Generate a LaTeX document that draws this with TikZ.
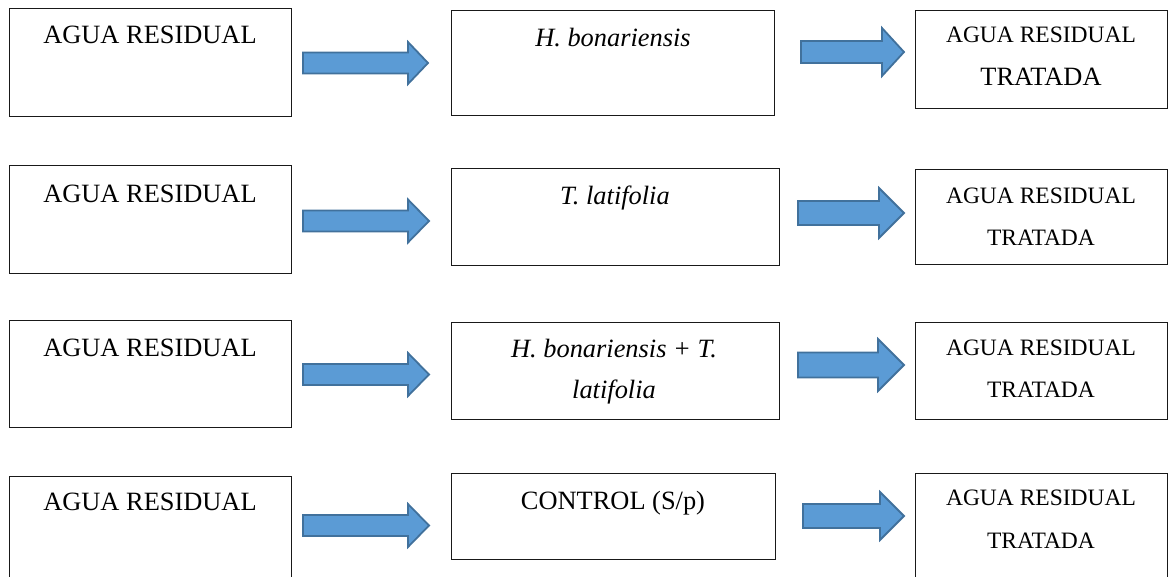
\documentclass[tikz,border=0pt]{standalone}
\usepackage{fontspec}
\setmainfont{Liberation Serif}
\definecolor{arrfill}{RGB}{91,155,213}
\definecolor{arrline}{RGB}{65,113,156}
\newcommand{\bigtxt}{\fontsize{26.4}{30}\selectfont}
\newcommand{\smtxt}{\fontsize{23.5}{28}\selectfont}
% block arrow: x-start, x-tip, x-head-start, y-centre, shaft half, head half
\newcommand{\blockarr}[6]{%
  \draw[blockarrow] (#1,{#4-#5}) -- (#3,{#4-#5}) -- (#3,{#4-#6}) -- (#2,#4)
    -- (#3,{#4+#6}) -- (#3,{#4+#5}) -- (#1,{#4+#5}) -- cycle;}
\begin{document}
\begin{tikzpicture}[x=1pt,y=-1pt,
  box/.style={draw=black!90, line width=1.1pt, fill=white, inner sep=0pt, anchor=north west},
  txt/.style={anchor=base, inner sep=0pt, font=\bigtxt},
  stxt/.style={anchor=base, inner sep=0pt, font=\smtxt},
  blockarrow/.style={fill=arrfill, draw=arrline, line width=1.8pt, line join=miter}]
\useasboundingbox (0,0) rectangle (1176,576);
\clip (0,0) rectangle (1176,576);
% ---------- row 1
\node[box, minimum width=282, minimum height=108] (L1) at (9,8) {};
\node[box, minimum width=323, minimum height=105] (M1) at (451,10) {};
\node[box, minimum width=252, minimum height=98] (R1) at (915,10) {};
\node[txt] (tL1) at (150,43.5) {AGUA RESIDUAL};
\node[txt] (tM1) at (613,46) {\itshape H. bonariensis};
\node[stxt] (tR1a) at (1041,42) {AGUA RESIDUAL};
\node[txt] (tR1b) at (1041,85) {TRATADA};
\blockarr{303}{428}{408}{63}{10.5}{21}
\blockarr{801}{904}{882}{52}{11}{24}
% ---------- row 2
\node[box, minimum width=282, minimum height=108] (L2) at (9,165) {};
\node[box, minimum width=328, minimum height=97] (M2) at (451,168) {};
\node[box, minimum width=252, minimum height=95] (R2) at (915,169) {};
\node[txt] (tL2) at (150,202) {AGUA RESIDUAL};
\node[txt] (tM2) at (615,204) {\itshape T. latifolia};
\node[stxt] (tR2a) at (1041,203) {AGUA RESIDUAL};
\node[stxt] (tR2b) at (1041,245) {TRATADA};
\blockarr{303}{429}{408}{221}{10.5}{21.5}
\blockarr{798}{904}{879}{213}{12}{25}
% ---------- row 3
\node[box, minimum width=282, minimum height=107] (L3) at (9,320) {};
\node[box, minimum width=328, minimum height=97] (M3) at (451,322) {};
\node[box, minimum width=252, minimum height=97] (R3) at (915,322) {};
\node[txt] (tL3) at (150,356) {AGUA RESIDUAL};
\node[txt] (tM3a) at (614,357) {\itshape H. bonariensis + T.};
\node[txt] (tM3b) at (614,398) {\itshape latifolia};
\node[stxt] (tR3a) at (1041,355) {AGUA RESIDUAL};
\node[stxt] (tR3b) at (1041,397) {TRATADA};
\blockarr{303}{429}{408}{374.5}{10.5}{21.5}
\blockarr{798}{904}{878}{365}{12.5}{26}
% ---------- row 4
\node[box, minimum width=282, minimum height=110] (L4) at (9,476) {};
\node[box, minimum width=324, minimum height=86] (M4) at (451,473) {};
\node[box, minimum width=252, minimum height=110] (R4) at (915,473) {};
\node[txt] (tL4) at (150,510) {AGUA RESIDUAL};
\node[txt] (tM4) at (613,509) {CONTROL (S/p)};
\node[stxt] (tR4a) at (1041,505) {AGUA RESIDUAL};
\node[stxt] (tR4b) at (1041,548) {TRATADA};
\blockarr{303}{429}{408}{525.5}{10.5}{21.5}
\blockarr{803}{904}{880}{516}{12}{24}
\end{tikzpicture}
\end{document}
